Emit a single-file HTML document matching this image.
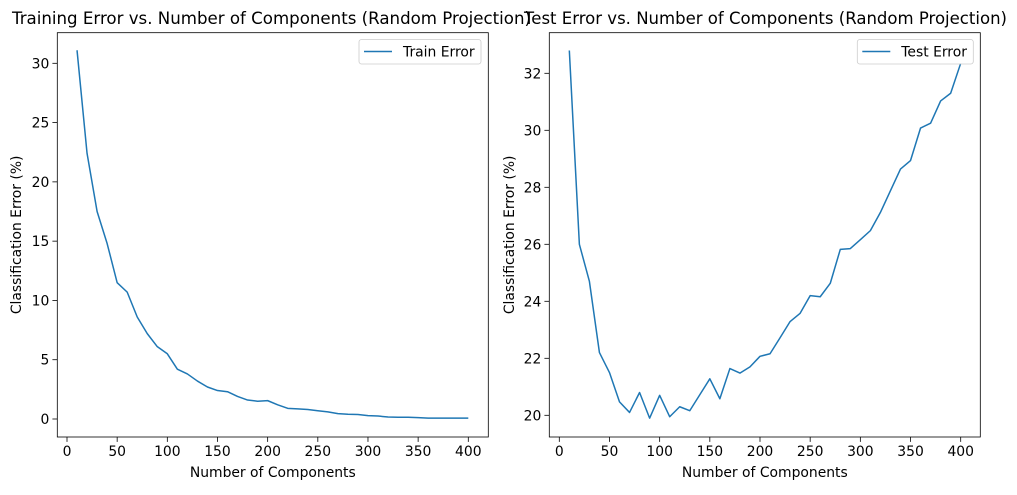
<!DOCTYPE html>
<html><head><meta charset="utf-8"><style>
body{margin:0;background:#fff}
text{font-family:"DejaVu Sans","Liberation Sans",sans-serif;fill:#000}
</style></head><body>
<svg id="chart" width="1017" height="490" viewBox="0 0 1017 490"></svg>
<script>
const components = [10,20,30,40,50,60,70,80,90,100,110,120,130,140,150,160,170,180,190,200,210,220,230,240,250,260,270,280,290,300,310,320,330,340,350,360,370,380,390,400];
const trainError = [31.1,22.4,17.5,14.8,11.5,10.7,8.6,7.2,6.1,5.5,4.2,3.8,3.2,2.7,2.4,2.3,1.9,1.6,1.5,1.55,1.2,0.9,0.85,0.8,0.7,0.6,0.45,0.4,0.38,0.28,0.25,0.17,0.15,0.15,0.12,0.07,0.07,0.07,0.07,0.07];
const testError = [32.8,26.0,24.7,22.2,21.5,20.47,20.1,20.8,19.9,20.7,19.95,20.3,20.16,20.72,21.28,20.58,21.64,21.48,21.7,22.07,22.16,22.72,23.29,23.58,24.2,24.16,24.63,25.82,25.85,26.16,26.48,27.12,27.88,28.64,28.94,30.08,30.25,31.03,31.3,32.35];
const xTicks = [0,50,100,150,200,250,300,350,400];
const trainYTicks = [0,5,10,15,20,25,30];
const testYTicks = [20,22,24,26,28,30,32];

const NS='http://www.w3.org/2000/svg';
const svg=document.getElementById('chart');
function mk(tag,attrs,parent){const e=document.createElementNS(NS,tag);for(const k in attrs)e.setAttribute(k,attrs[k]);(parent||svg).appendChild(e);return e;}

function panel(cfg){
  const g=mk('g',{});
  
  
  const sx=v=>cfg.x0px+(v-0)*(cfg.x400px-cfg.x0px)/400;
  const sy=v=>cfg.yA_px+(v-cfg.yA)*(cfg.yB_px-cfg.yA_px)/(cfg.yB-cfg.yA);
  // ticks x
  xTicks.forEach(t=>{
    const x=sx(t);
    mk('line',{x1:x,x2:x,y1:cfg.bottom,y2:cfg.bottom+4.9,stroke:'#000','stroke-width':0.8},g);
    const tx=mk('text',{x:x,y:cfg.bottom+19,'text-anchor':'middle','font-size':'13.9px'},g);
    tx.textContent=t;
    
    
  });
  cfg.yTicks.forEach(t=>{
    const y=sy(t);
    mk('line',{x1:cfg.left-4.9,x2:cfg.left,y1:y,y2:y,stroke:'#000','stroke-width':0.8},g);
    const tx=mk('text',{x:cfg.left-8,y:y+5,'text-anchor':'end','font-size':'13.9px'},g);
    tx.textContent=t;
    
    
  });
  // line
  const pts=components.map((c,i)=>sx(c).toFixed(2)+','+sy(cfg.data[i]).toFixed(2)).join(' ');
  const pl=mk('polyline',{points:pts,fill:'none',stroke:'#1f77b4','stroke-width':1.5,'stroke-linejoin':'round'},g);
  
  
  // frame
  const fr=mk('rect',{x:cfg.left,y:cfg.top,width:cfg.right-cfg.left,height:cfg.bottom-cfg.top,fill:'none',stroke:'#000','stroke-width':0.8},g);
  
  
  // title
  const ti=mk('text',{x:cfg.titleX,y:24,'font-size':'16.7px',textLength:cfg.titleW,lengthAdjust:'spacingAndGlyphs'},g);
  ti.textContent=cfg.title;
  
  
  const xl=mk('text',{x:(cfg.left+cfg.right)/2,y:477,'text-anchor':'middle','font-size':'13.9px'},g);
  xl.textContent='Number of Components';
  
  
  const cy=(cfg.top+cfg.bottom)/2;
  const yl=mk('text',{x:cfg.ylabelX,y:cy,'text-anchor':'middle','font-size':'13.9px',transform:'rotate(-90 '+cfg.ylabelX+' '+cy+')'},g);
  yl.textContent='Classification Error (%)';
  
  
  // legend
  const lg=mk('g',{},g);
  
  
  mk('rect',{x:cfg.legX,y:39.5,width:cfg.legW,height:24.5,rx:2.5,fill:'#fff','fill-opacity':0.8,stroke:'#ccc','stroke-width':0.8},lg);
  mk('line',{x1:cfg.legX+5,x2:cfg.legX+33,y1:51.5,y2:51.5,stroke:'#1f77b4','stroke-width':1.5},lg);
  const lt=mk('text',{x:cfg.legX+44,y:56.5,'font-size':'13.9px'},lg);
  lt.textContent=cfg.legendText;
  
  
}

panel({name:'train-panel',seriesName:'train-error-line',data:trainError,yTicks:trainYTicks,
  left:57.3,right:488.3,top:32.7,bottom:437,x0px:67,x400px:468.3,yA:0,yA_px:419,yB:30,yB_px:63.3,
  title:'Training Error vs. Number of Components (Random Projection)',titleX:12,titleW:519,ylabelX:21,
  legX:359,legW:122,legendText:'Train Error'});
panel({name:'test-panel',seriesName:'test-error-line',data:testError,yTicks:testYTicks,
  left:549.3,right:980.3,top:32.7,bottom:437,x0px:559.3,x400px:960.7,yA:20,yA_px:415.3,yB:32,yB_px:73.3,
  title:'Test Error vs. Number of Components (Random Projection)',titleX:524,titleW:483,ylabelX:514,
  legX:857.3,legW:116,legendText:'Test Error'});
</script>
</body></html>
